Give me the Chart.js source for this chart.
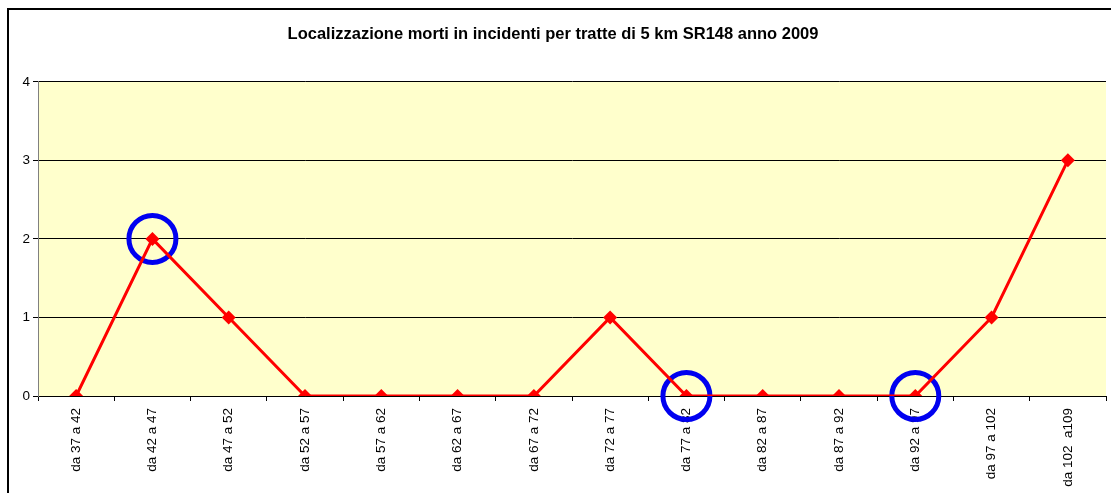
<!DOCTYPE html>
<html>
<head>
<meta charset="utf-8">
<script src="https://cdn.jsdelivr.net/npm/chart.js@4"></script>
<style>
  body { margin: 0; background: #fff; overflow: hidden; }
  #frame { position: absolute; left: 7px; top: 8px; width: 1200px; height: 600px; border-left: 2px solid #000; border-top: 2px solid #000; }
  #wrap { position: absolute; left: 0; top: 0; width: 1125px; height: 493px; }
</style>
</head>
<body>
<div id="frame"></div>
<div id="wrap"><canvas id="myChart"></canvas></div>
<script>
const tratte = ["da 37 a 42", "da 42 a 47", "da 47 a 52", "da 52 a 57", "da 57 a 62", "da 62 a 67", "da 67 a 72",
  "da 72 a 77", "da 77 a 82", "da 82 a 87", "da 87 a 92", "da 92 a 97", "da 97 a 102", "da 102  a109"];
const morti = [0, 2, 1, 0, 0, 0, 0, 1, 0, 0, 0, 0, 1, 3];
// points circled in blue on the original
const cerchiati = [null, 2, null, null, null, null, null, null, 0, null, null, 0, null, null];
const yTicks = [0, 1, 2, 3, 4];

const plotBg = {
  id: 'plotBg',
  beforeDraw(chart) {
    const { ctx, chartArea: a } = chart;
    ctx.save();
    ctx.fillStyle = '#FFFFCC';
    ctx.fillRect(a.left, a.top, a.right - a.left, a.bottom - a.top);
    ctx.restore();
  }
};

const ctx = document.getElementById("myChart").getContext("2d");

new Chart(ctx, {
  type: 'line',
  data: {
    labels: tratte,
    datasets: [
      {
        data: morti,
        borderColor: '#FF0000',
        backgroundColor: '#FF0000',
        borderWidth: 3,
        pointStyle: 'rectRot',
        pointRadius: 7,
        pointBorderWidth: 0,
        tension: 0
      },
      {
        data: cerchiati,
        showLine: false,
        pointStyle: 'circle',
        pointRadius: c => (c.raw == null ? 0 : 23.5),
        pointBorderWidth: c => (c.raw == null ? 0 : 5),
        borderColor: '#0000F0',
        backgroundColor: 'rgba(0,0,0,0)',
        clip: false
      }
    ]
  },
  options: {
    responsive: true,
    maintainAspectRatio: false,
    animation: false,
    layout: { padding: { left: 0, right: 19, top: 0, bottom: 0 } },
    plugins: {
      legend: { display: false },
      tooltip: { enabled: false },
      title: {
        display: true,
        text: 'Localizzazione morti in incidenti per tratte di 5 km SR148 anno 2009',
        color: '#000',
        font: { family: 'Arial, "Liberation Sans"', size: 16.5, weight: 'bold' },
        padding: { top: 25, bottom: 37 }
      }
    },
    scales: {
      x: {
        offset: true,
        grid: { offset: true, drawOnChartArea: false, drawTicks: true, tickLength: 5, color: '#000' },
        border: { color: '#000', width: 1 },
        ticks: {
          color: '#000',
          font: { family: 'Arial, "Liberation Sans"', size: 13.5 },
          minRotation: 90,
          maxRotation: 90,
          padding: 7,
          autoSkip: false
        },
        afterFit(s) { s.height = 97; s.paddingLeft = 0; s.paddingRight = 0; }
      },
      y: {
        min: 0,
        max: 4,
        afterBuildTicks(s) { s.ticks = yTicks.map(v => ({ value: v })); },
        grid: { color: '#000', tickLength: 5, lineWidth: 1 },
        border: { color: '#808080', width: 1 },
        ticks: {
          color: '#000',
          font: { family: 'Arial, "Liberation Sans"', size: 13.5 },
          padding: 3
        },
        afterFit(s) { s.width = 38; s.paddingTop = 0; s.paddingBottom = 0; }
      }
    }
  },
  plugins: [plotBg]
});
</script>
</body>
</html>
